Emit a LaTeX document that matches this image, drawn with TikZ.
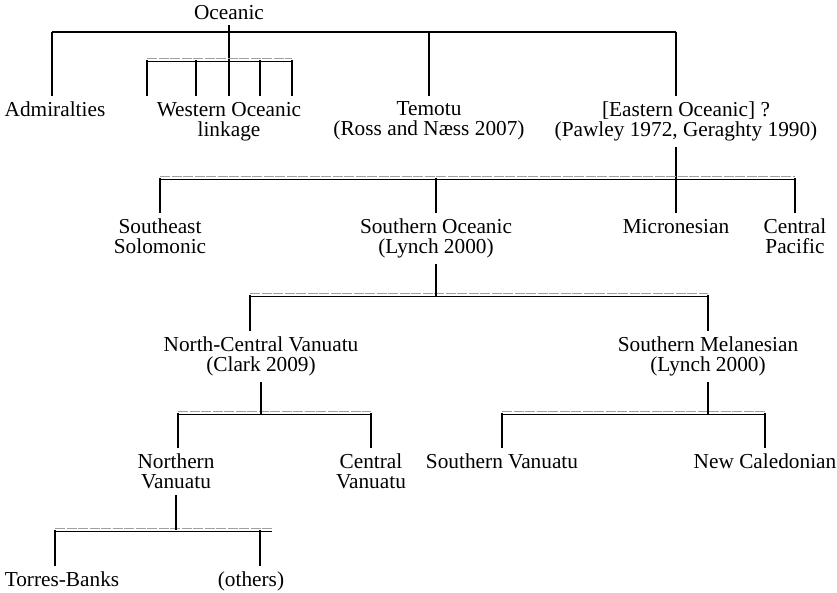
\documentclass[tikz,border=0pt]{standalone}
\usepackage{fontspec}
\setmainfont{Liberation Serif}
\usetikzlibrary{calc}

\tikzset{
  lang/.style={align=center, inner sep=0pt, outer sep=6pt, anchor=north,
    font=\fontsize{21.3}{20}\selectfont},
  branch/.style={line width=2pt},
  linktop/.style={line width=1pt, gray!75, dash pattern=on 10pt off 1.5pt},
  linkbot/.style={line width=1pt, black},
}
% a linkage: thin grey dashed line over a thin black line
\newcommand{\linkbar}[2]{%
  \draw[linktop] ([yshift=1.8pt]#1) -- ([yshift=1.8pt]#2);
  \draw[linkbot] ([yshift=-1.6pt]#1) -- ([yshift=-1.6pt]#2);}

\begin{document}
\begin{tikzpicture}[x=1pt,y=-1pt]
    \useasboundingbox (0,0) rectangle (837,593);
    \begin{scope}
      % labels
      \node[lang] (oceanic) at (229,-1) {Oceanic};
      \node[lang] (adm) at (55,96) {Admiralties};
      \node[lang] (wol) at (229,96) {Western Oceanic\\linkage};
      \node[lang] (tem) at (429,96) {Temotu\\(Ross and Næss 2007)};
      \node[lang] (eoc) at (686,96) {[Eastern Oceanic] ?\\(Pawley 1972, Geraghty 1990)};
      \node[lang] (ses) at (160,213) {Southeast\\Solomonic};
      \node[lang] (soc) at (436,213) {Southern Oceanic\\(Lynch 2000)};
      \node[lang] (mic) at (676,213) {Micronesian};
      \node[lang] (cpa) at (795,213) {Central\\Pacific};
      \node[lang] (ncv) at (261,331) {North-Central Vanuatu\\(Clark 2009)};
      \node[lang] (sme) at (708,331) {Southern Melanesian\\(Lynch 2000)};
      \node[lang] (nva) at (176,448) {Northern\\Vanuatu};
      \node[lang] (cva) at (371,448) {Central\\Vanuatu};
      \node[lang] (sva) at (502,448) {Southern Vanuatu};
      \node[lang] (nca) at (765,448) {New Caledonian};
      \node[lang] (tba) at (62,566) {Torres-Banks};
      \node[lang] (oth) at (251,566) {(others)};

      % bar ends
      \coordinate (top-l) at (52,32);
      \coordinate (top-r) at (676,32);
      \coordinate (wol-l) at (147,60);
      \coordinate (wol-r) at (292,60);
      \coordinate (r2-l) at (160,178);
      \coordinate (r2-r) at (795,178);
      \coordinate (r3-l) at (250,295);
      \coordinate (r3-r) at (708,295);
      \coordinate (r4a-l) at (178,413);
      \coordinate (r4a-r) at (371,413);
      \coordinate (r4b-l) at (502,413);
      \coordinate (r4b-r) at (765,413);
      \coordinate (r5-l) at (55,530);
      \coordinate (r5-r) at (272,530);
      \coordinate (r5-o) at (260,530);

      % Oceanic
      \draw[branch] (top-l) -- (top-r);
      \draw[branch] (oceanic.south) -- (wol.north);
      \draw[branch] (top-l) -- (top-l |- adm.north);
      \draw[branch] (tem |- top-l) -- (tem.north);
      \draw[branch] (top-r) -- (top-r |- eoc.north);

      % Western Oceanic linkage
      \linkbar{wol-l}{wol-r}
      \foreach \x in {147,196,260,292}
        \draw[branch] (\x,60) -- (\x,60 |- wol.north);

      % Eastern Oceanic
      \draw[branch] (eoc.south -| top-r) -- (mic.north);
      \linkbar{r2-l}{r2-r}
      \draw[branch] (r2-l) -- (ses.north);
      \draw[branch] (soc |- r2-l) -- (soc.north);
      \draw[branch] (r2-r) -- (cpa.north);

      % Southern Oceanic
      \linkbar{r3-l}{r3-r}
      \draw[branch] (soc.south) -- ($(soc |- r3-l)+(0,2)$);
      \draw[branch] (r3-l) -- (r3-l |- ncv.north);
      \draw[branch] (r3-r) -- (sme.north);

      % North-Central Vanuatu
      \linkbar{r4a-l}{r4a-r}
      \draw[branch] (ncv.south) -- ($(ncv |- r4a-l)+(0,2)$);
      \draw[branch] (r4a-l) -- (r4a-l |- nva.north);
      \draw[branch] (r4a-r) -- (cva.north);

      % Southern Melanesian
      \linkbar{r4b-l}{r4b-r}
      \draw[branch] (sme.south) -- ($(sme |- r4b-l)+(0,2)$);
      \draw[branch] (r4b-l) -- (sva.north);
      \draw[branch] (r4b-r) -- (nca.north);

      % Northern Vanuatu
      \linkbar{r5-l}{r5-r}
      \draw[branch] (nva.south) -- (nva |- r5-l);
      \draw[branch] (r5-l) -- (r5-l |- tba.north);
      \draw[branch] (r5-o) -- (r5-o |- oth.north);
    \end{scope}
  \end{tikzpicture}
\end{document}
